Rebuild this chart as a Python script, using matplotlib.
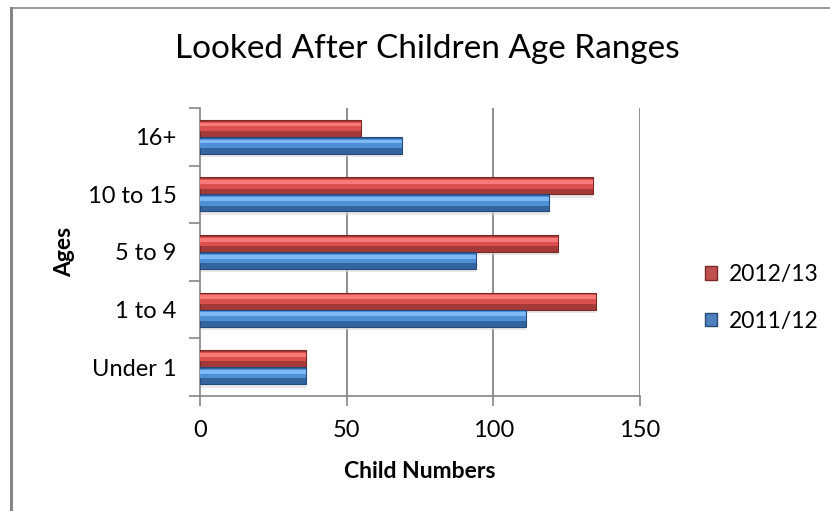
import matplotlib
matplotlib.use("Agg")
import matplotlib.pyplot as plt
from matplotlib.patches import Patch
from matplotlib.lines import Line2D
import numpy as np

categories = ["Under 1", "1 to 4", "5 to 9", "10 to 15", "16+"]
series_names = ["2012/13", "2011/12"]
values_2012_13 = [36, 135, 122, 134, 55]
values_2011_12 = [36, 111, 94, 119, 69]
x_ticks = [0, 50, 100, 150]

plt.rcParams['font.family'] = ['Lato', 'DejaVu Sans']

fig = plt.figure(figsize=(8.30, 5.11), dpi=100)
W, H = 830, 511
ax = fig.add_axes([200 / W, (H - 396) / H, 440 / W, 288 / H])

y = np.arange(len(categories))
bh = 0.295

def bar3d(ax, ypos, vals, dark, mid, light, edge):
    ax.barh(ypos - 0.06, vals, height=bh, left=0, color="#d8d8d8", alpha=0.6, zorder=2, linewidth=0)
    ax.barh(ypos, vals, height=bh, color=dark, zorder=3, linewidth=0.8, edgecolor=edge)
    ax.barh(ypos + bh * 0.12, vals, height=bh * 0.55, color=mid, zorder=4, linewidth=0)
    ax.barh(ypos + bh * 0.22, vals, height=bh * 0.22, color=light, zorder=5, linewidth=0)

bar3d(ax, y + bh / 2, values_2012_13, "#A33A38", "#D9504E", "#F77A78", "#7A2826")
bar3d(ax, y - bh / 2, values_2011_12, "#34649E", "#4F8FD6", "#7DBAF5", "#27497A")

ax.set_xlim(0, 150)
ax.set_ylim(-0.5, len(categories) - 0.5)
ax.set_xticks(x_ticks)
ax.set_xticklabels([str(t) for t in x_ticks], fontsize=17)
ax.set_yticks(np.arange(len(categories) + 1) - 0.5)
ax.set_yticklabels([])
ax.set_yticks(y, minor=True)
ax.set_yticklabels(categories, minor=True, fontsize=17)
ax.tick_params(axis='y', which='minor', length=0, pad=17)
ax.tick_params(axis='y', which='major', length=8, color="#868686", width=1.2)
ax.tick_params(axis='x', length=7, color="#868686", width=1.2, pad=10)

for s in ["top", "right"]:
    ax.spines[s].set_visible(False)
for s in ["left", "bottom"]:
    ax.spines[s].set_color("#868686")
    ax.spines[s].set_linewidth(1.2)

for t in x_ticks[1:]:
    ax.axvline(t, color="#868686", lw=1.3, zorder=1)

ax.set_xlabel("Child Numbers", fontsize=16.5, fontweight='bold', labelpad=15)
ax.set_ylabel("Ages", fontsize=16.5, fontweight='bold')
ax.yaxis.set_label_coords((75 - 200) / 440, 0.5)

fig.suptitle("Looked After Children Age Ranges", fontsize=24, x=427.5 / W, y=1 - 34 / H, va='top')

handles = [Patch(facecolor="#C0504D", edgecolor="#7A2826"),
           Patch(facecolor="#4F81BD", edgecolor="#27497A")]
fig.legend(handles, series_names, loc='center left', bbox_to_anchor=(684 / W, 1 - 298 / H),
           frameon=False, fontsize=16.5, handlelength=0.55, handleheight=0.55,
           handletextpad=0.5, labelspacing=1.1)

fig.add_artist(Line2D([11 / W, 11 / W], [0, 1 - 8 / H], transform=fig.transFigure,
                      color="#868686", lw=2.2))
fig.add_artist(Line2D([11 / W, 1], [1 - 8 / H, 1 - 8 / H], transform=fig.transFigure,
                      color="#868686", lw=1.2))

fig.savefig("out.png", dpi=100)
